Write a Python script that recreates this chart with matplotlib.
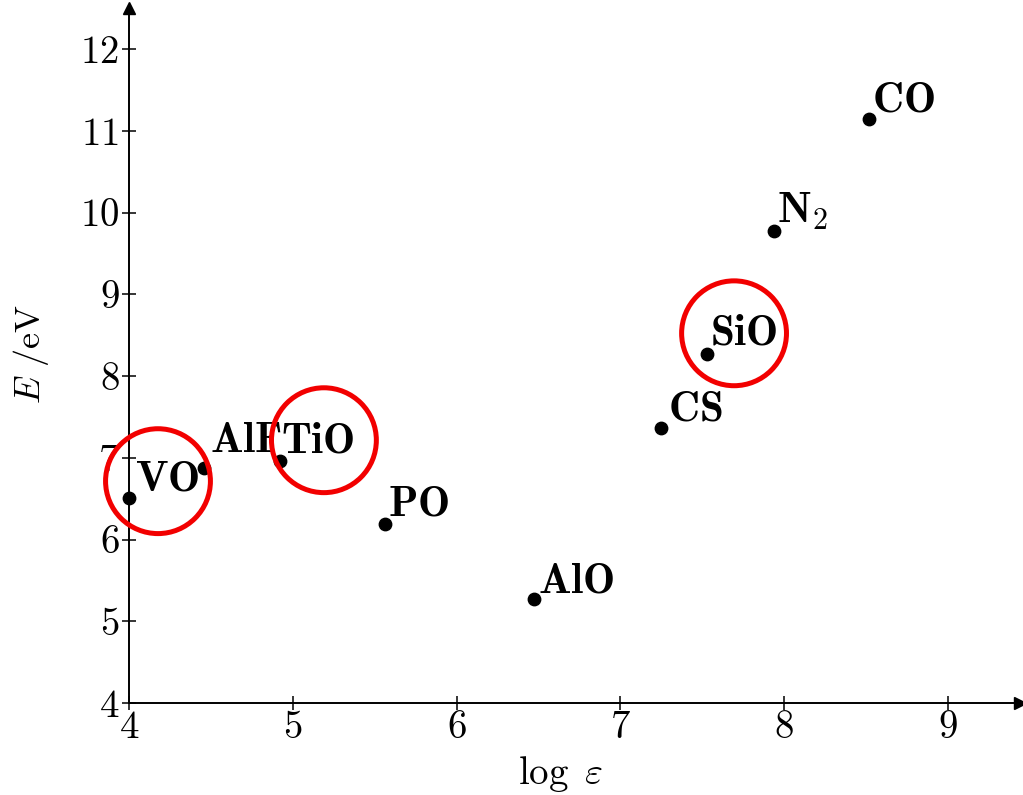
import matplotlib
matplotlib.use("Agg")
import matplotlib.pyplot as plt
from matplotlib import rcParams

rcParams['font.family'] = 'serif'
rcParams['font.serif'] = ['cmr10']
rcParams['mathtext.fontset'] = 'cm'
rcParams['axes.formatter.use_mathtext'] = True

# molecules: log(epsilon) vs dissociation energy
molecules = ['VO', 'AlF', 'TiO', 'PO', 'AlO', 'CS', 'SiO', 'N$_2$', 'CO']
log_eps = [4.00, 4.46, 4.92, 5.56, 6.47, 7.25, 7.53, 7.94, 8.52]
energy = [6.51, 6.87, 6.96, 6.19, 5.27, 7.37, 8.27, 9.78, 11.14]

# label offsets in pixels (right / up from the dot)
label_dx = [6, 6, 1, 3, 4, 7, 3, 3, 3]
label_dy = [7, 16, 9, 8, 7, 7, 9, 8, 8]

# highlighted molecules (ring centres)
ring_x = [4.177, 5.19, 7.694]
ring_y = [6.714, 7.215, 8.523]

fig = plt.figure(figsize=(10.23, 7.95), dpi=100)
ax = fig.add_axes([0.1261, 0.1157, 0.871, 0.874])

ax.scatter(log_eps, energy, s=80, color='k', zorder=3, clip_on=False)

for name, x, y, dx, dy in zip(molecules, log_eps, energy, label_dx, label_dy):
    if name.startswith('N'):
        txt = r'$\mathbf{N}_2$'
    else:
        txt = r'$\mathbf{' + name + '}$'
    ax.annotate(txt, (x, y), xytext=(dx, dy), textcoords='offset pixels',
                ha='left', va='baseline', fontsize=31)

ax.scatter(ring_x, ring_y, s=5700, facecolors='none', edgecolors='#f20000',
           linewidths=3.6, zorder=4, clip_on=False)

ax.set_xlim(4, 9.44)
ax.set_ylim(4, 12.5)
ax.set_xticks([4, 5, 6, 7, 8, 9])
ax.set_yticks([4, 5, 6, 7, 8, 9, 10, 11, 12])

for s in ['top', 'right']:
    ax.spines[s].set_visible(False)
for s in ['left', 'bottom']:
    ax.spines[s].set_linewidth(1.4)

ax.tick_params(direction='inout', length=10, width=1.1, labelsize=28)
ax.tick_params(axis='y', pad=2)
ax.tick_params(axis='x', pad=0)

# arrow heads at the ends of both axes
ax.plot(1, 0, '>k', markersize=8, transform=ax.transAxes, clip_on=False)
ax.plot(0, 1, '^k', markersize=8, transform=ax.transAxes, clip_on=False)

ax.set_xlabel(r'$\log\ \varepsilon$', fontsize=28)
ax.xaxis.set_label_coords(0.484, -0.073)
ax.set_ylabel(r'$E\ $/eV', fontsize=26)
ax.yaxis.set_label_coords(-0.087, 0.502)

fig.savefig('out.png', dpi=100)
